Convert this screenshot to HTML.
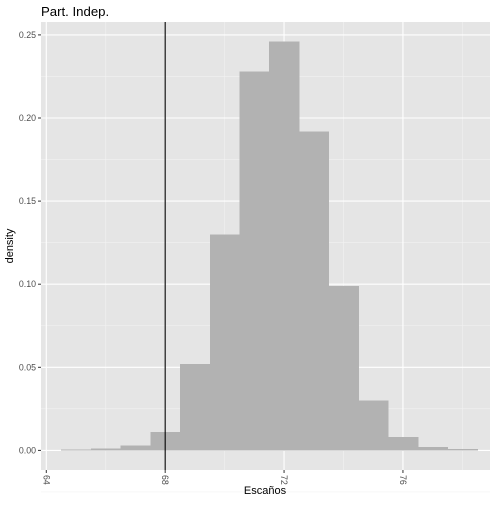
<!DOCTYPE html>
<html><head><meta charset="utf-8"><style>
body{margin:0;background:#fff}
text{font-family:"Liberation Sans",sans-serif}
</style></head><body>
<svg id="chart" width="504" height="504" xmlns="http://www.w3.org/2000/svg"></svg>
<script>
const binCenters=[65,66,67,68,69,70,71,72,73,74,75,76,77,78];
const densities=[0.0005,0.001,0.003,0.011,0.052,0.130,0.228,0.246,0.192,0.099,0.030,0.008,0.002,0.0007];
const xTicks=[64,68,72,76];
const xMinor=[66,70,74,78];
const yTicks=[0,0.05,0.10,0.15,0.20,0.25];
const yTickLabels=["0.00","0.05","0.10","0.15","0.20","0.25"];
const refLine=68;
const binWidth=1;
const svg=document.getElementById('chart');
const NS='http://www.w3.org/2000/svg';
const L=41,R=490,T=22,B=470;
const x=v=>46.3+(v-64)*29.72;
const y=v=>450.4-v*1662;
function mk(tag,attrs,name,parent){const e=document.createElementNS(NS,tag);for(const k in attrs)e.setAttribute(k,attrs[k]);


(parent||svg).appendChild(e);return e;}
mk('rect',{x:L,y:T,width:R-L,height:B-T,fill:'#e5e5e5'},'plot-panel');
yTicks.forEach((t,i)=>{if(i<yTicks.length-1){const m=(t+yTicks[i+1])/2;mk('line',{x1:L,x2:R,y1:y(m),y2:y(m),stroke:'#f2f2f2','stroke-width':0.6},'y-minor-gridline');}});
mk('line',{x1:L,x2:R,y1:y(-0.025),y2:y(-0.025),stroke:'#f2f2f2','stroke-width':0.6},'y-minor-gridline');
xMinor.forEach(t=>mk('line',{x1:x(t),x2:x(t),y1:T,y2:B,stroke:'#f2f2f2','stroke-width':0.6},'x-minor-gridline'));
yTicks.forEach((t,i)=>{mk('line',{x1:L,x2:R,y1:y(t),y2:y(t),stroke:'#fff','stroke-width':1.1},'y-gridline');
mk('line',{x1:L-3,x2:L,y1:y(t),y2:y(t),stroke:'#333','stroke-width':1},'y-tick');
const tx=mk('text',{x:L-5,y:y(t)+3,'text-anchor':'end','font-size':8.8,fill:'#4d4d4d'},'y-tick-label');tx.textContent=yTickLabels[i];});
xTicks.forEach(t=>{mk('line',{x1:x(t),x2:x(t),y1:T,y2:B,stroke:'#fff','stroke-width':1.1},'x-gridline');
mk('line',{x1:x(t),x2:x(t),y1:B,y2:B+3,stroke:'#333','stroke-width':1},'x-tick');
const tx=mk('text',{x:x(t)-3,y:B+5,'font-size':8.8,fill:'#4d4d4d',transform:`rotate(90 ${x(t)-3} ${B+5})`},'x-tick-label');tx.textContent=t;});
binCenters.forEach((c,i)=>{const x0=x(c-binWidth/2),x1=x(c+binWidth/2);
mk('rect',{x:x0,y:y(densities[i]),width:x1-x0+0.6,height:y(0)-y(densities[i]),fill:'#b2b2b2','shape-rendering':'crispEdges'},'histogram-bar');});
mk('line',{x1:x(refLine),x2:x(refLine),y1:T,y2:B,stroke:'#000','stroke-width':1.1},'reference-line');
let t=mk('text',{x:265,y:494,'text-anchor':'middle','font-size':11,fill:'#000'},'x-axis-title');t.textContent='Escaños';
t=mk('text',{x:13,y:246,'text-anchor':'middle','font-size':11,fill:'#000',transform:'rotate(-90 13 246)'},'y-axis-title');t.textContent='density';
t=mk('text',{x:41,y:16,'font-size':13.2,fill:'#000'},'chart-title');t.textContent='Part. Indep.';
</script>
</body></html>
